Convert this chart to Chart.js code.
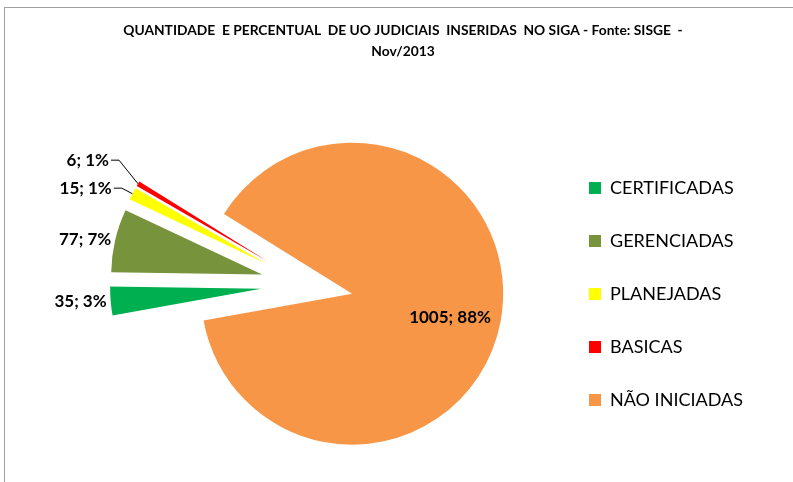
<!DOCTYPE html>
<html>
<head>
<meta charset="utf-8">
<script src="https://cdn.jsdelivr.net/npm/chart.js@4.4.1/dist/chart.umd.min.js"></script>
<style>
  html, body { margin: 0; padding: 0; background: #fff; overflow: hidden; }
  #moldura {
    position: absolute; left: 4px; top: 7px; width: 800px; height: 480px;
    border-left: 1px solid #a0a0a0; border-top: 1px solid #a0a0a0;
  }
  #grafico { position: absolute; left: 5px; top: 8px; }
</style>
</head>
<body>
<div id="moldura"></div>
<canvas id="grafico" width="788" height="474"></canvas>
<script>
// dados (SISGE - Nov/2013)
const categorias = ["CERTIFICADAS", "GERENCIADAS", "PLANEJADAS", "BASICAS", "NÃO INICIADAS"];
const quantidades = [35, 77, 15, 6, 1005];
const cores = ["#00B050", "#77933C", "#FFFF00", "#FF0000", "#F79646"];
const tituloLinhas = [
  "QUANTIDADE  E PERCENTUAL  DE UO JUDICIAIS  INSERIDAS  NO SIGA - Fonte: SISGE  -",
  "Nov/2013"
];

const total = quantidades.reduce((a, b) => a + b, 0);
const EXPLOSAO = 46;   // afastamento de cada fatia (como no Excel), em px
const RAIO = 151;
const FONTE = "Lato, 'Liberation Sans', sans-serif";

Chart.defaults.font.family = FONTE;
Chart.defaults.color = "#000";

// o offset do chart.js encolhe as fatias pequenas; aqui só transladamos a fatia
const desenhoArco = Chart.ArcElement.prototype.draw;
Chart.ArcElement.prototype.draw = function (ctx) {
  const h = (this.startAngle + this.endAngle) / 2;
  ctx.save();
  ctx.translate(Math.cos(h) * EXPLOSAO, Math.sin(h) * EXPLOSAO);
  desenhoArco.call(this, ctx);
  ctx.restore();
};

const rotulos = {
  id: "rotulos",
  afterDatasetsDraw(chart) {
    const ctx = chart.ctx;
    const meta = chart.getDatasetMeta(0);
    const fora = [];
    ctx.save();
    ctx.font = "bold 17px " + FONTE;
    ctx.fillStyle = "#000";
    ctx.textBaseline = "middle";
    meta.data.forEach((arc, i) => {
      const p = arc.getProps(["x", "y", "startAngle", "endAngle", "outerRadius"], true);
      const h = (p.startAngle + p.endAngle) / 2;
      const dx = Math.cos(h), dy = Math.sin(h);
      const ax = p.x + dx * EXPLOSAO, ay = p.y + dy * EXPLOSAO;
      const frac = quantidades[i] / total;
      const texto = quantidades[i] + "; " + Math.round(frac * 100) + "%";
      if (frac > 0.5) {
        ctx.textAlign = "center";
        ctx.fillText(texto, ax + dx * p.outerRadius * 0.66, ay + dy * p.outerRadius * 0.66 + 5);
        return;
      }
      const px = ax + dx * p.outerRadius, py = ay + dy * p.outerRadius;
      const pequena = frac < 0.02;
      const g = pequena ? 12 : 4;
      fora.push({ texto, px, py, qx: px + dx * g, y0: py + dy * g, y: py + dy * g, pequena });
    });
    // espalha os rótulos da esquerda de baixo para cima
    fora.sort((a, b) => b.y - a.y);
    for (let k = 1; k < fora.length; k++) {
      if (fora[k].y > fora[k - 1].y - 28) fora[k].y = fora[k - 1].y - 28;
    }
    ctx.textAlign = "right";
    ctx.strokeStyle = "#000";
    ctx.lineWidth = 1;
    fora.forEach(r => {
      const qx = r.qx - (r.y0 - r.y) * 0.5;
      if (r.pequena) {
        ctx.beginPath();
        ctx.moveTo(r.px, r.py);
        ctx.lineTo(qx, r.y);
        ctx.lineTo(qx - 8, r.y);
        ctx.stroke();
        ctx.fillText(r.texto, qx - 10, r.y);
      } else {
        ctx.fillText(r.texto, qx, r.y);
      }
    });
    ctx.restore();
  }
};

new Chart(document.getElementById("grafico"), {
  type: "pie",
  data: {
    labels: categorias,
    datasets: [{
      data: quantidades,
      backgroundColor: cores,
      borderWidth: 0,
      hoverOffset: 0
    }]
  },
  options: {
    responsive: false,
    animation: false,
    radius: RAIO,
    rotation: 259.8,
    layout: { padding: { left: 55, right: 47, top: 0, bottom: 38 } },
    plugins: {
      title: {
        display: true,
        text: tituloLinhas,
        color: "#000",
        font: { size: 13.8, weight: "bold", lineHeight: 1.52 },
        padding: { top: 12.5, bottom: 63.5 + 42 - 2 * 13.8 * 1.52 }
      },
      legend: {
        position: "right",
        align: "end",
        maxWidth: 192,
        labels: {
          boxWidth: 12,
          boxHeight: 12,
          padding: 35,
          color: "#000",
          font: { size: 18 }
        }
      },
      tooltip: { enabled: false }
    }
  },
  plugins: [rotulos]
});
</script>
</body>
</html>
